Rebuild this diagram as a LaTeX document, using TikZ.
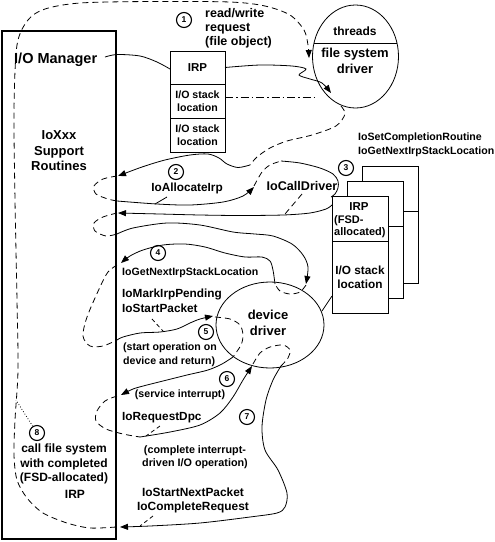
\documentclass[tikz,border=0pt]{standalone}
\usepackage{fontspec}
\setmainfont{Liberation Sans}
\usetikzlibrary{arrows.meta,shapes.geometric}
\newcommand{\myfs}[2]{\fontsize{#1}{#2}\selectfont\bfseries}
\begin{document}
\begin{tikzpicture}[x=1pt,y=-1pt,
  ln/.style={line width=0.8pt},
  dsh/.style={line width=0.8pt, dash pattern=on 6pt off 4pt},
  tipa/.style={-{Triangle[length=8pt,width=6pt]}},
  num/.style={circle, draw, line width=1.1pt, minimum size=15pt, inner sep=0pt, font=\myfs{8.5}{9}},
  part/.style={draw, ln, fill=white, minimum width=56pt, inner sep=0pt, outer sep=0pt},
  lc/.style={align=center, inner sep=0pt},
  ll/.style={align=left, anchor=west, inner sep=0pt},
]
\useasboundingbox (0,0) rectangle (495,542);

% ---------- I/O Manager ----------
\node[draw, line width=1.8pt, minimum width=114pt, minimum height=508pt, inner sep=0pt] (mgr) at (59,285) {};
\node[ll, font=\myfs{14.5}{16}] (mgrt) at (14,60) {I/O Manager};
\node[lc, font=\myfs{13}{15.5}] (sup) at (59,151) {IoXxx\\Support\\Routines};
\node[num] (c8) at (37,433) {8};
\node[lc, font=\myfs{12}{14.5}] (t8) at (64,464) {call file system\\with completed\\(FSD-allocated)};
\node[lc, font=\myfs{12}{14.5}] (t8b) at (75,494) {IRP};

% ---------- top IRP ----------
\node[part, minimum width=55pt, minimum height=33pt, anchor=north, font=\myfs{11.5}{13}] (irp) at (197.5,51) {IRP};
\node[part, minimum width=55pt, minimum height=34pt, anchor=north, align=center, font=\myfs{10.6}{12.5}] (sl1) at (irp.south) {I/O stack\\location};
\node[part, minimum width=55pt, minimum height=34pt, anchor=north, align=center, font=\myfs{10.6}{12.5}] (sl2) at (sl1.south) {I/O stack\\location};

% ---------- file system driver ----------
\node[ellipse, draw, ln, minimum width=86pt, minimum height=103pt, inner sep=0pt] (fsd) at (355.5,56.5) {};
\draw[ln] ([shift={(-41.5,-13.5)}]fsd.center) -- ([shift={(41.5,-13.5)}]fsd.center);
\node[lc, font=\myfs{12}{14}] (thr) at (355,31) {threads};
\node[lc, font=\myfs{13}{16}] (fsdt) at (355,61) {file system\\driver};

\node[num] (c1) at (184,20) {1};
\node[ll, font=\myfs{12.5}{14.2}] (t1) at (205,28) {read/write\\request\\(file object)};

% ---------- FSD-allocated IRP stack ----------
\node[part, minimum height=45pt, anchor=north west] (s3a) at (362,166) {};
\node[part, minimum height=72pt, anchor=north] (s3b) at (s3a.south) {};
\node[part, minimum height=45pt, anchor=north west] (s2a) at (347,181) {};
\node[part, minimum height=72pt, anchor=north] (s2b) at (s2a.south) {};
\node[part, minimum height=45pt, anchor=north west] (s1a) at (332,196) {};
\node[part, minimum height=72pt, anchor=north, align=center, font=\myfs{11.8}{14}] (s1b) at (s1a.south) {I/O stack\\location};
\node[lc, font=\myfs{11.5}{13}] (irp2) at (359,207) {IRP};
\node[ll, font=\myfs{11}{12}] (fsda) at (334,227) {(FSD-\\allocated)};
\node[num] (c3) at (346,168) {3};
\node[ll, font=\myfs{10.6}{14.5}] (t3) at (358,145) {IoSetCompletionRoutine\\IoGetNextIrpStackLocation};

% ---------- device driver ----------
\node[ellipse, draw, ln, minimum width=108pt, minimum height=86pt, inner sep=0pt] (dd) at (270,325) {};
\node[lc, font=\myfs{13}{15.5}] (ddt) at (268,323) {device\\driver};
\coordinate (ddr) at (322,311);
\coordinate (fbl) at (332,296);
\draw[ln] (ddr) -- (fbl);

% ---------- labels ----------
\node[num] (c2) at (176,172) {2};
\node[lc, font=\myfs{11.8}{13}] (t2) at (187,188) {IoAllocateIrp};
\node[lc, font=\myfs{12.6}{13}] (tcd) at (302,186) {IoCallDriver};
\node[num] (c4) at (158,253) {4};
\node[ll, font=\myfs{10.6}{12}] (t4) at (122,273) {IoGetNextIrpStackLocation};
\node[ll, font=\myfs{11.8}{15}] (t4b) at (122,300.5) {IoMarkIrpPending\\IoStartPacket};
\node[num] (c5) at (206,332) {5};
\node[ll, font=\myfs{10.6}{13.5}] (t5) at (123,355) {(start operation on\\device and return)};
\node[num] (c6) at (227,379) {6};
\node[lc, font=\myfs{10.6}{12}] (t6) at (180,395) {(service interrupt)};
\node[ll, font=\myfs{11.8}{13}] (t6b) at (122,418) {IoRequestDpc};
\node[num] (c7) at (247,417) {7};
\node[lc, font=\myfs{10.8}{13}] (t7) at (195,457) {(complete interrupt-\\driven I/O operation)};
\node[lc, font=\myfs{11.9}{14}] (t7b) at (193,500) {IoStartNextPacket\\IoCompleteRequest};

% ---------- request flow 1 ----------
\coordinate (m1) at (105,57);
\draw[ln] plot[smooth] coordinates {(m1) (117,54.5) (140,56) (157,62) (170,69)};
\draw[ln,tipa] plot[smooth, tension=0.5] coordinates {(irp.east) (260,65) (292,66) (306,69) (299,75) (310,79) (322,83) (331,93)};
\coordinate (dda) at (225,97);
\coordinate (ddb) at (318,97);
\draw[ln, dash pattern=on 8pt off 3pt on 1.5pt off 3pt] (dda) -- (ddb);
\coordinate (bl0) at (116,527);
\draw[dsh,tipa] plot[smooth] coordinates {(bl0) (90,528) (67,523) (43,513) (27,498) (17,480) (14,455) (15,420) (18,370) (17,300) (15,200) (14,110) (17,45) (28,20) (45,9) (80,3) (150,1.5) (230,2) (265,6) (290,15) (304,30) (308,45) (309,58)};

% ---------- 2 ----------
\coordinate (a2) at (341,106);
\coordinate (b2) at (250,165);
\draw[dsh] plot[smooth] coordinates {(a2) (345,114) (336,126) (312,135) (287,141) (270,148) (257,157) (b2)};
\draw[ln,tipa] plot[smooth] coordinates {(b2) (238,167.5) (227,164) (219,158) (208,154) (190,155) (165,160) (142,167) (118,176)};
\coordinate (c2a) at (117,176);
\coordinate (c2b) at (117,201);
\draw[dsh] plot[smooth] coordinates {(c2a) (103,179) (94,186) (96,194) (108,199) (c2b)};
\draw[ln,tipa] plot[smooth] coordinates {(c2b) (157,204) (190,205) (223,202) (243,196) (254,187)};

% ---------- 3 ----------
\coordinate (a3) at (254,186);
\coordinate (b3) at (281,161);
\draw[dsh] plot[smooth] coordinates {(a3) (262,172) (270,165) (b3)};
\draw[ln] plot[smooth] coordinates {(b3) (300,163) (320,168) (333,174) (338,181) (338,188) (335,194) (331,197)};
\coordinate (d3) at (332,205);
\draw[ln,tipa] plot[smooth] coordinates {(d3) (326,209) (310,213) (283,215) (240,215.5) (200,215) (160,214) (118,213)};
\coordinate (e3) at (117,213);
\coordinate (f3) at (117,234);
\draw[dsh] plot[smooth] coordinates {(e3) (103,217) (94,223) (95,231) (106,236) (f3)};
\draw[ln,tipa] plot[smooth] coordinates {(f3) (133,228) (167,223) (200,225) (233,232) (255,234) (273,236) (292,244) (303,255) (308,267) (306,284)};

% ---------- 4 ----------
\coordinate (a4) at (306,285);
\coordinate (b4) at (275,284);
\draw[dsh] plot[smooth] coordinates {(a4) (300,292) (290,294) (280,291) (b4)};
\draw[ln,tipa] plot[smooth] coordinates {(b4) (273,270) (270,261) (262,257) (245,257) (225,253) (205,247) (185,244) (163,245) (143,250) (130,256) (121,263)};
\coordinate (c4a) at (117,265);
\coordinate (c4b) at (117,340);
\draw[dsh] plot[smooth] coordinates {(c4a) (108,272) (100,287) (87,317) (83,336) (90,346) (103,346) (c4b)};

% ---------- 5 ----------
\draw[ln,tipa] plot[smooth] coordinates {(c4b) (123,337) (140,333) (160,332) (177,329) (190,323) (200,319) (213,316)};
\coordinate (a5) at (215,317);
\coordinate (b5) at (233,357);
\draw[dsh] plot[smooth] coordinates {(a5) (230,319) (240,325) (243,335) (241,345) (b5)};

% ---------- 6 ----------
\draw[ln,tipa] plot[smooth] coordinates {(b5) (222,364) (208,370) (187,375) (167,380) (147,385) (133,389) (121,395)};
\coordinate (a6) at (117,396);
\coordinate (b6) at (140,437);
\draw[dsh] plot[smooth] coordinates {(a6) (105,401) (97,411) (96,421) (106,429) (123,434) (b6)};
\draw[ln,tipa] plot[smooth] coordinates {(b6) (170,432) (200,425) (220,413) (233,397) (243,380) (252,366)};

% ---------- 7 ----------
\coordinate (a7) at (253,364);
\coordinate (b7) at (281,366);
\draw[dsh] plot[smooth] coordinates {(a7) (260,353) (270,347) (283,345) (290,350) (288,358) (b7)};
\draw[ln,tipa] plot[smooth] coordinates {(b7) (273,380) (266,400) (262,427) (265,450) (278,470) (287,493) (285,507) (277,513) (250,517) (200,523) (150,526) (120,527)};

% ---------- leaders ----------
\coordinate (l1a) at (155,204); \coordinate (l1b) at (167,197);
\draw[ln] (l1a) -- (l1b);
\coordinate (l2a) at (302,194); \coordinate (l2b) at (285,214);
\draw[dsh] (l2a) -- (l2b);
\coordinate (l3a) at (152,319); \coordinate (l3b) at (163,331);
\draw[ln, dash pattern=on 4pt off 3pt] (l3a) -- (l3b);
\coordinate (l4a) at (160,426); \coordinate (l4b) at (146,436);
\draw[ln, dash pattern=on 4pt off 3pt] (l4a) -- (l4b);
\coordinate (l5a) at (153,516); \coordinate (l5b) at (140,526);
\draw[ln, dash pattern=on 4pt off 3pt] (l5a) -- (l5b);
\coordinate (dot8) at (16,400);
\draw[ln, dotted] (c8) -- (dot8);
\end{tikzpicture}
\end{document}
